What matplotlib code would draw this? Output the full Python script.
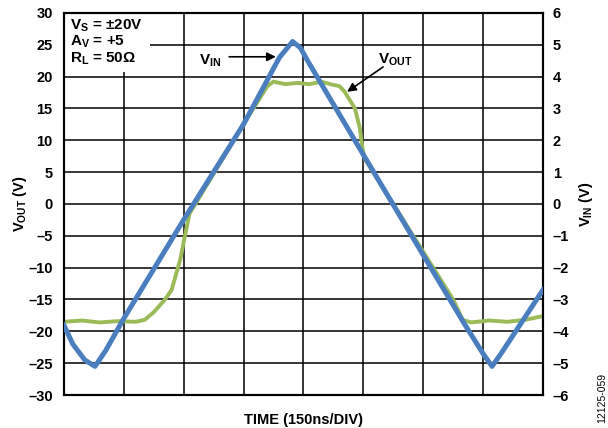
import matplotlib
matplotlib.use("Agg")
import matplotlib.pyplot as plt
from matplotlib.patches import Rectangle

plt.rcParams['font.family'] = ['Liberation Sans', 'DejaVu Sans']
plt.rcParams['font.weight'] = 'bold'
plt.rcParams['axes.labelweight'] = 'bold'
plt.rcParams['mathtext.fontset'] = 'custom'
plt.rcParams['mathtext.bf'] = 'Liberation Sans:bold'
plt.rcParams['mathtext.rm'] = 'Liberation Sans:bold'
plt.rcParams['mathtext.default'] = 'bf'

# time in divisions (150ns/DIV)
t_in = [0, 0.15, 0.35, 0.52, 0.7, 1.0, 2.0, 3.0, 3.6, 3.82, 3.95, 4.1,
        5.0, 6.0, 6.7, 7.0, 7.15, 7.3, 8.0]
v_in = [-3.8, -4.4, -4.9, -5.1, -4.6, -3.6, -0.5, 2.5, 4.6, 5.1, 4.9, 4.4,
        1.55, -1.6, -3.8, -4.7, -5.1, -4.7, -2.7]

t_out = [0, 0.3, 0.6, 0.9, 1.2, 1.35, 1.5, 1.69, 1.8, 1.95, 2.0, 2.1,
         3.0, 3.4, 3.5, 3.7, 3.9, 4.1, 4.3, 4.45, 4.6, 4.69, 4.86, 4.94,
         4.99, 5.03, 6.0, 6.5, 6.66, 6.8, 7.1, 7.4, 7.7, 8.0]
v_out = [-18.5, -18.3, -18.6, -18.4, -18.5, -18.2, -17.0, -15.0, -13.5,
         -8.5, -6.0, -1.5, 12.5, 18.5, 19.2, 18.8, 19.0, 18.8, 19.2, 18.8,
         18.5, 17.6, 15.0, 12.0, 8.5, 7.0, -7.5, -15.0, -18.2, -18.6,
         -18.3, -18.5, -18.2, -17.6]

left_ticks = list(range(-30, 31, 5))
right_ticks = list(range(-6, 7, 1))

fig = plt.figure(figsize=(6.08, 4.28), dpi=100)
ax = fig.add_axes([0.105, 0.077, 0.788, 0.893])
ax2 = ax.twinx()

ax.set_xlim(0, 8)
ax.set_ylim(-30, 30)
ax2.set_ylim(-6, 6)
ax.set_xticks(range(0, 9))
ax.set_xticklabels([])
ax.set_yticks(left_ticks)
ax.set_yticklabels([str(v).replace('-', '\u2013') for v in left_ticks])
ax2.set_yticks(right_ticks)
ax2.set_yticklabels([str(v).replace('-', '\u2013') for v in right_ticks])
ax.tick_params(length=0, labelsize=10.5, pad=8)
ax2.tick_params(length=0, labelsize=10.5, pad=7)

ax.grid(True, color='black', linewidth=1.1)
ax.set_axisbelow(True)
for a in (ax, ax2):
    for s in a.spines.values():
        s.set_linewidth(1.5)

ax.plot(t_out, v_out, color='#9BBB59', linewidth=2.8, zorder=3)
ax2.plot(t_in, v_in, color='#4A7EBF', linewidth=3.6, zorder=3)

# white box behind conditions
ax.add_patch(Rectangle((0, 0.845), 0.18, 0.155, transform=ax.transAxes,
                       facecolor='white', edgecolor='none', zorder=1))
ax.text(0.013, 0.988, '$V_S$ = \u00b120V\n$A_V$ = +5\n$R_L$ = 50\u03a9',
        transform=ax.transAxes, fontsize=11, va='top', ha='left',
        linespacing=1.0, zorder=4)

ax.set_ylabel('$V_{OUT}$ (V)', fontsize=10.5)
ax.yaxis.set_label_coords(-0.072, 0.5)
ax2.set_ylabel('$V_{IN}$ (V)', fontsize=10.5, labelpad=6, rotation=90)
ax.set_xlabel('TIME (150ns/DIV)', fontsize=10.5, labelpad=5)

arrow = dict(arrowstyle='-|>', color='black', linewidth=1.2,
             mutation_scale=13, shrinkA=0, shrinkB=0)
ax.text(2.44, 22.4, '$V_{IN}$', fontsize=11, ha='center', va='center')
ax.annotate('', xy=(3.54, 23.1), xytext=(2.76, 23.1), arrowprops=arrow)
ax.text(5.53, 22.6, '$V_{OUT}$', fontsize=11, ha='center', va='center')
ax.annotate('', xy=(4.73, 17.6), xytext=(5.33, 21.5), arrowprops=arrow)

fig.text(0.99, 0.07, '12125-059', rotation=90, fontsize=7.5,
         fontweight='normal', ha='center', va='center')

fig.savefig('out.png', dpi=100)
